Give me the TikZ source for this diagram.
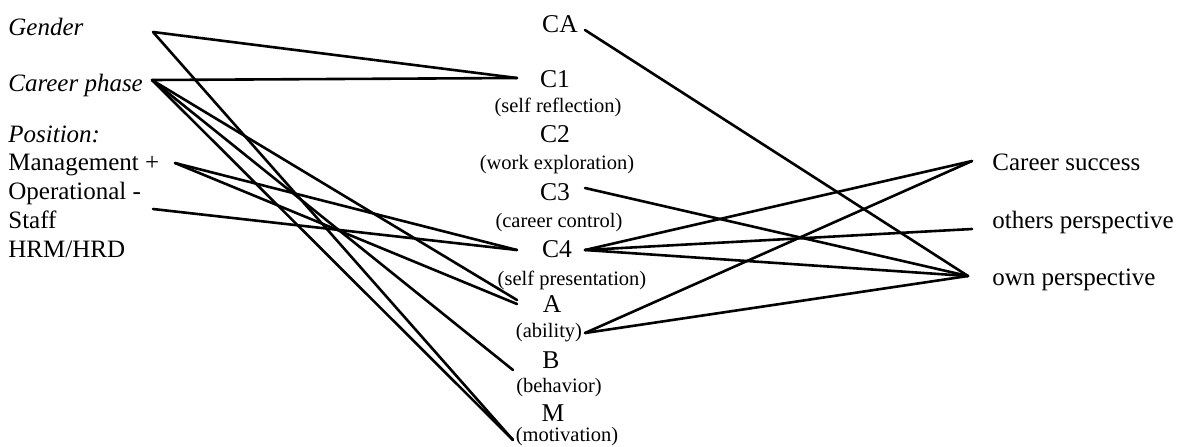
\documentclass[tikz,border=0pt]{standalone}
\usepackage{fontspec}
\setmainfont{Liberation Serif}
\begin{document}
\begin{tikzpicture}[x=0.5pt,y=-0.5pt,
  lbl/.style={inner sep=0pt, anchor=base west, font=\fontsize{12.5}{15}\selectfont},
  mid/.style={inner sep=0pt, anchor=base, font=\fontsize{12.8}{15}\selectfont},
  sub/.style={inner sep=0pt, anchor=base, font=\fontsize{10.25}{12}\selectfont},
  link/.style={line width=1.3pt, line cap=round}]
\useasboundingbox (0,0) rectangle (1178,446);
% left column
\node[lbl] (gender) at (8,35) {\itshape Gender};
\node[lbl] (cphase) at (8,91) {\itshape Career phase};
\node[lbl] (position) at (8,142) {\itshape Position:};
\node[lbl] (mgmt) at (8,170) {Management +};
\node[lbl] (oper) at (8,199) {Operational -};
\node[lbl] (staff) at (8,228) {Staff};
\node[lbl] (hrm) at (8,257) {HRM/HRD};
% middle column
\node[mid] (ca) at (560,32) {CA};
\node[mid] (c1) at (555,87) {C1};
\node[sub] (c1s) at (558,112) {(self reflection)};
\node[mid] (c2) at (555,142) {C2};
\node[sub] (c2s) at (557,169) {(work exploration)};
\node[mid] (c3) at (555,200) {C3};
\node[sub] (c3s) at (559,227) {(career control)};
\node[mid] (c4) at (557,257) {C4};
\node[sub] (c4s) at (572,285) {(self presentation)};
\node[mid] (a) at (552,312) {A};
\node[sub] (as) at (549,337) {(ability)};
\node[mid] (b) at (551,368) {B};
\node[sub] (bs) at (559,392) {(behavior)};
\node[mid] (m) at (553,421) {M};
\node[sub] (ms) at (567,441) {(motivation)};
% right column
\node[lbl] (cs) at (992,170) {Career success};
\node[lbl] (op) at (992,228) {others perspective};
\node[lbl] (ow) at (992,285) {own perspective};
% connector end points
\coordinate (gR) at (153,32);
\coordinate (cpR) at (152,80);
\coordinate (mgR) at (175,163);
\coordinate (stR) at (153,209);
\coordinate (c1L) at (517,78);
\coordinate (c4L) at (517,250);
\coordinate (aL1) at (517,300);
\coordinate (aL2) at (517,304);
\coordinate (bL) at (513,370);
\coordinate (mL) at (513,440);
\coordinate (caR) at (585,30);
\coordinate (c3R) at (585,188);
\coordinate (c4R) at (585,250);
\coordinate (aR) at (585,333);
\coordinate (csL) at (972,161);
\coordinate (opL) at (972,229);
\coordinate (owL) at (968,276);
% left connectors
\draw[link] (gR) -- (c1L);
\draw[link] (gR) -- (mL);
\draw[link] (cpR) -- (c1L);
\draw[link] (cpR) -- (aL1);
\draw[link] (cpR) -- (bL);
\draw[link] (cpR) -- (mL);
\draw[link] (mgR) -- (c4L);
\draw[link] (mgR) -- (aL2);
\draw[link] (stR) -- (c4L);
% right connectors
\draw[link] (caR) -- (owL);
\draw[link] (c3R) -- (owL);
\draw[link] (c4R) -- (csL);
\draw[link] (c4R) -- (opL);
\draw[link] (c4R) -- (owL);
\draw[link] (aR) -- (csL);
\draw[link] (aR) -- (owL);
\end{tikzpicture}
\end{document}
